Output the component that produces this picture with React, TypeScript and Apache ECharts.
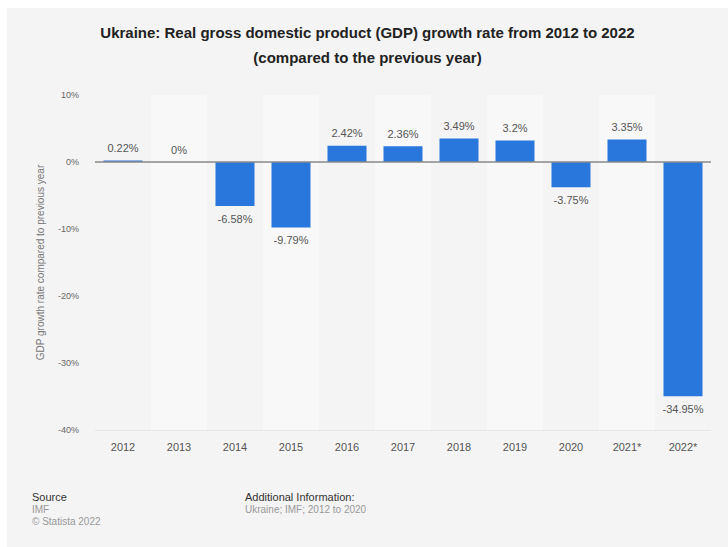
import React, { useEffect, useRef } from "react";
import * as echarts from "echarts";

const categories = ["2012", "2013", "2014", "2015", "2016", "2017", "2018", "2019", "2020", "2021*", "2022*"];
const growth = [0.22, 0, -6.58, -9.79, 2.42, 2.36, 3.49, 3.2, -3.75, 3.35, -34.95];
const titleText = "Ukraine: Real gross domestic product (GDP) growth rate from 2012 to 2022\n(compared to the previous year)";
const yAxisName = "GDP growth rate compared to previous year";

const FONT = "'Liberation Sans', Arial, Helvetica, sans-serif";

export default function App() {
  const ref = useRef<HTMLDivElement>(null);
  useEffect(() => {
    if (!ref.current) return;
    const chart = echarts.init(ref.current, undefined, { renderer: "svg" });
    chart.setOption({
      animation: false,
      backgroundColor: "#f4f4f4",
      textStyle: { fontFamily: FONT },
      title: {
        text: titleText,
        left: "center",
        top: 7,
        textStyle: { fontFamily: FONT, fontSize: 15, fontWeight: "bold", color: "#222", lineHeight: 25 },
      },
      grid: { left: 88, top: 87, width: 616, height: 335 },
      xAxis: {
        type: "category",
        data: categories,
        axisLine: { show: false },
        axisTick: { show: false },
        axisLabel: { color: "#555", fontSize: 11, margin: 11, fontFamily: FONT },
        splitArea: { show: true, areaStyle: { color: ["#f4f4f4", "#f8f8f8"] } },
      },
      yAxis: {
        type: "value",
        min: -40,
        max: 10,
        interval: 10,
        name: yAxisName,
        nameLocation: "middle",
        nameGap: 50,
        nameTextStyle: { color: "#777", fontSize: 10, fontFamily: FONT },
        axisLine: { show: false },
        axisTick: { show: false },
        axisLabel: { color: "#666", fontSize: 9, margin: 16, formatter: "{value}%", fontFamily: FONT },
        splitLine: { lineStyle: { color: "#e6e6e6", width: 1 } },
      },
      series: [
        {
          type: "bar",
          barWidth: 39,
          itemStyle: { color: "#2976dc" },
          data: growth.map((v) => ({
            value: v,
            label: { position: v < 0 ? "bottom" : "top" },
          })),
          label: {
            show: true,
            formatter: "{c}%",
            color: "#555",
            fontSize: 11,
            distance: 7,
            fontFamily: FONT,
          },
          markLine: {
            silent: true,
            symbol: "none",
            label: { show: false },
            lineStyle: { color: "#8a8a8a", width: 1.5, type: "solid" },
            data: [{ yAxis: 0 }],
          },
        },
      ],
      graphic: [
        { type: "text", x: 25, y: 483, style: { text: "Source", fontSize: 11, fill: "#333", fontFamily: FONT } },
        { type: "text", x: 25, y: 496, style: { text: "IMF", fontSize: 10, fill: "#999", fontFamily: FONT } },
        { type: "text", x: 25, y: 508, style: { text: "© Statista 2022", fontSize: 10, fill: "#999", fontFamily: FONT } },
        { type: "text", x: 238, y: 483, style: { text: "Additional Information:", fontSize: 11, fill: "#333", fontFamily: FONT } },
        { type: "text", x: 238, y: 496, style: { text: "Ukraine; IMF; 2012 to 2020", fontSize: 10, fill: "#999", fontFamily: FONT } },
      ],
    });
    return () => chart.dispose();
  }, []);
  return (
    <div style={{ position: "fixed", left: 0, top: 0, width: 728, height: 547, background: "#fff", overflow: "hidden" }}>
      <div ref={ref} style={{ position: "absolute", left: 7, top: 8, width: 721, height: 539 }} />
    </div>
  );
}
